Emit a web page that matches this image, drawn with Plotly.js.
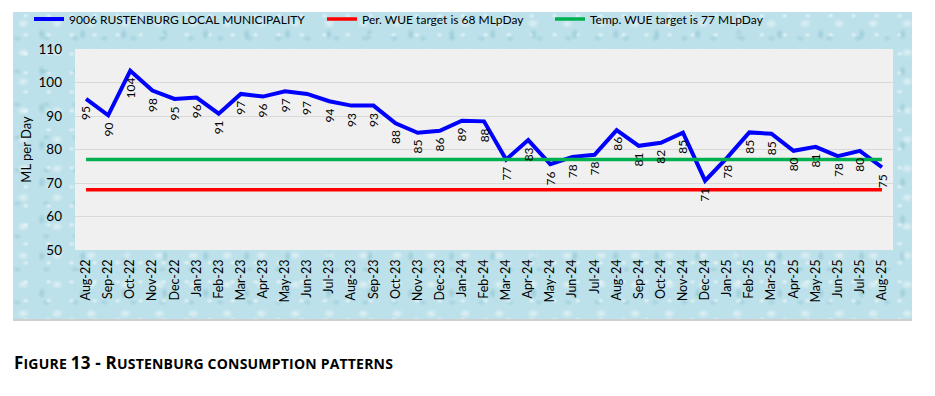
<!DOCTYPE html>
<html>
<head>
<meta charset="utf-8">
<script src="https://cdn.plot.ly/plotly-3.0.1.min.js"></script>
<style>
  html, body { margin: 0; padding: 0; background: #ffffff; }
  #wrap { position: relative; width: 935px; height: 396px; overflow: hidden; }
  #bg {
    position: absolute; left: 13px; top: 12px; width: 899px; height: 307px;
    background-color: #bde1ea;
    background-image:
      radial-gradient(ellipse 9px 7px at 30% 40%, rgba(255,255,255,0.5), rgba(255,255,255,0) 70%),
      radial-gradient(ellipse 6px 9px at 70% 60%, rgba(110,175,192,0.4), rgba(110,175,192,0) 70%),
      radial-gradient(ellipse 5px 4px at 55% 20%, rgba(255,255,255,0.55), rgba(255,255,255,0) 70%),
      radial-gradient(ellipse 7px 5px at 15% 80%, rgba(130,190,205,0.4), rgba(130,190,205,0) 70%);
    background-size: 34px 29px, 41px 37px, 23px 19px, 29px 33px;
    border-bottom: 2px solid #cfcfcf;
  }
  #plot { position: absolute; left: 0; top: 0; width: 935px; height: 396px; }
  #caption {
    position: absolute; left: 14px; top: 353px; line-height: 20px; white-space: nowrap;
    font-family: "Open Sans", Lato, sans-serif; font-weight: bold; font-size: 14px;
    color: #000; letter-spacing: 0.2px;
  }
  #caption .b { font-size: 17px; }
</style>
</head>
<body>
<div id="wrap">
  <div id="bg"></div>
  <div id="plot"></div>
  <div id="caption"><span class="b">F</span>IGURE <span class="b">13 - R</span>USTENBURG CONSUMPTION PATTERNS</div>
</div>
<script>
// ---- data ----
var months = ["Aug-22","Sep-22","Oct-22","Nov-22","Dec-22","Jan-23","Feb-23","Mar-23","Apr-23","May-23","Jun-23","Jul-23",
  "Aug-23","Sep-23","Oct-23","Nov-23","Dec-23","Jan-24","Feb-24","Mar-24","Apr-24","May-24","Jun-24","Jul-24",
  "Aug-24","Sep-24","Oct-24","Nov-24","Dec-24","Jan-25","Feb-25","Mar-25","Apr-25","May-25","Jun-25","Jul-25","Aug-25"];
var consumption = [95.1, 90.2, 103.5, 97.6, 95.1, 95.5, 90.7, 96.6, 95.8, 97.4, 96.6, 94.4,
  93.1, 93.1, 87.8, 85.0, 85.6, 88.6, 88.4, 77.0, 82.8, 75.6, 77.8, 78.4,
  85.8, 81.1, 82.0, 85.0, 70.7, 77.6, 85.1, 84.7, 79.6, 80.8, 78.0, 79.6, 74.7];
var seriesName = "9006 RUSTENBURG LOCAL MUNICIPALITY";
var perTargetName = "Per. WUE target is 68 MLpDay";
var tempTargetName = "Temp. WUE target is 77 MLpDay";
var perTarget = 68;
var tempTarget = 77;
var yTicks = [50, 60, 70, 80, 90, 100, 110];

// ---- layout helpers ----
var W = 935, H = 396;
var mL = 75, mR = 42, mT = 49, mB = 146;

var FONT = "Lato, 'Open Sans', sans-serif";

var traces = [
  { x: months, y: consumption, type: "scatter", mode: "lines", name: seriesName,
    line: { color: "#0000ff", width: 4 }, legend: "legend" },
  { x: months, y: months.map(function(){ return perTarget; }), type: "scatter", mode: "lines", name: perTargetName,
    line: { color: "#ff0000", width: 3.5 }, legend: "legend2" },
  { x: months, y: months.map(function(){ return tempTarget; }), type: "scatter", mode: "lines", name: tempTargetName,
    line: { color: "#00b050", width: 3.5 }, legend: "legend3" }
];

var annotations = months.map(function(m, i) {
  return { x: m, y: consumption[i], xref: "x", yref: "y", text: String(Math.round(consumption[i])),
    showarrow: false, textangle: -90, yanchor: "top", xanchor: "center", yshift: -5,
    font: { family: FONT, size: 12, color: "#000" } };
});

var legFont = { family: FONT, size: 12, color: "#000" };
function leg(pxLeft) {
  return { orientation: "h", xref: "container", yref: "container",
    x: pxLeft / W, xanchor: "left", y: 1 - 19 / H, yanchor: "middle",
    bgcolor: "rgba(0,0,0,0)", borderwidth: 0, font: legFont, itemwidth: 30 };
}

var layout = {
  width: W, height: H,
  margin: { l: mL, r: mR, t: mT, b: mB, pad: 0, autoexpand: false },
  paper_bgcolor: "rgba(0,0,0,0)",
  plot_bgcolor: "#f0f0f0",
  showlegend: true,
  legend: leg(29), legend2: leg(322), legend3: leg(550),
  xaxis: { type: "category", tickangle: -90, showgrid: false, zeroline: false, showline: false,
    ticks: "", tickfont: { family: FONT, size: 12.5, color: "#000" }, ticklabelstandoff: 6,
    range: [-0.5, months.length - 0.5], fixedrange: true },
  yaxis: { range: [50, 110], tickvals: yTicks, showgrid: true, gridcolor: "#d9d9d9", gridwidth: 1,
    zeroline: false, showline: false, ticks: "", ticklabelstandoff: 12,
    tickfont: { family: FONT, size: 13.5, color: "#000" },
    title: { text: "ML per Day", font: { family: FONT, size: 13, color: "#000" }, standoff: 3 },
    fixedrange: true },
  annotations: annotations
};

Plotly.newPlot("plot", traces, layout, { displayModeBar: false, staticPlot: true });
</script>
</body>
</html>
